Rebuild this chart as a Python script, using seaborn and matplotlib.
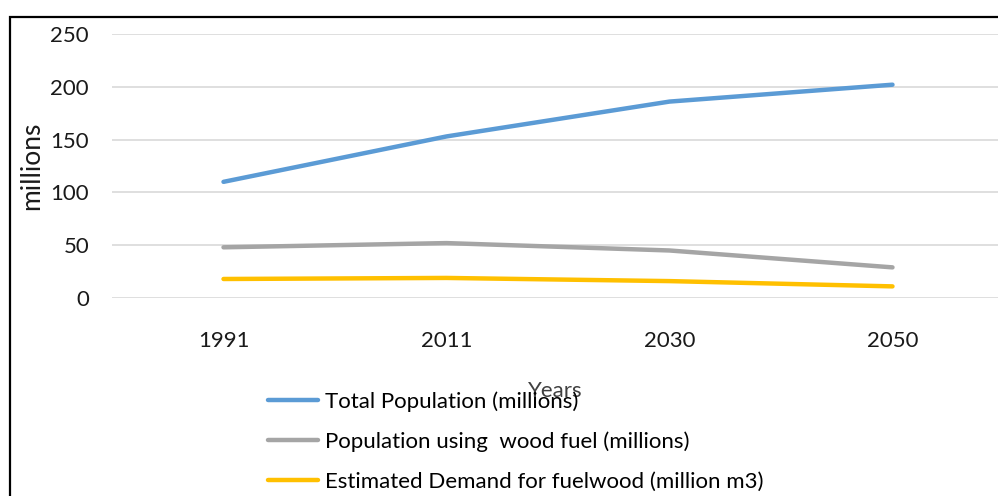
import matplotlib
matplotlib.use("Agg")
import matplotlib.pyplot as plt
from matplotlib.patches import Rectangle
import seaborn as sns
import pandas as pd

years = ["1991", "2011", "2030", "2050"]
total_population = [110, 153, 186, 202]
wood_fuel_population = [48, 52, 45, 29]
fuelwood_demand = [18, 19, 16, 11]

series_names = [
    "Total Population (millions)",
    "Population using  wood fuel (millions)",
    "Estimated Demand for fuelwood (million m3)",
]
series_colors = ["#5B9BD5", "#A5A5A5", "#FFC000"]

df = pd.concat([
    pd.DataFrame({"Year": years, "value": vals, "series": name})
    for name, vals in zip(series_names,
                          [total_population, wood_fuel_population, fuelwood_demand])
])

sns.set_theme(style="white")
plt.rcParams["font.family"] = ["Lato", "DejaVu Sans"]
text_color = "#1a1a1a"

fig = plt.figure(figsize=(9.98, 4.96), dpi=100)
W, H = 998, 496
left, right, top, bottom = 112, 1004, 34, 298
ax = fig.add_axes([left / W, (H - bottom) / H, (right - left) / W, (bottom - top) / H])

sns.lineplot(data=df, x="Year", y="value", hue="series",
             palette=dict(zip(series_names, series_colors)),
             linewidth=3.2, ax=ax, sort=False, legend=False)

ax.set_xlim(-0.5, 3.5)
ax.set_ylim(0, 250)
ax.set_yticks([0, 50, 100, 150, 200, 250])
ax.yaxis.grid(True, color="#D9D9D9", linewidth=1.2)
ax.set_axisbelow(True)
for s in ax.spines.values():
    s.set_visible(False)
ax.tick_params(axis="both", length=0, labelsize=16, colors=text_color)
ax.tick_params(axis="y", pad=16.5)
ax.tick_params(axis="x", pad=24)

ax.set_ylabel("millions", fontsize=19, color=text_color)
ax.yaxis.set_label_coords(-0.076, 0.5)
ax.set_xlabel("Years", fontsize=16, color="#404040")
ax.xaxis.set_label_coords(0.497, -0.315)

handles = [plt.Line2D([], [], color=c, linewidth=3.2) for c in series_colors]
fig.legend(handles, series_names, loc="upper left",
           bbox_to_anchor=(268 / W, 1 - 391 / H), frameon=False,
           borderpad=0, borderaxespad=0,
           fontsize=16, handlelength=2.25, handletextpad=0.32,
           labelspacing=0.9, labelcolor="#000000")

# outer chart border
fig.patches.append(Rectangle((10 / W, -0.1), 1.2, 1.1 - 17 / H,
                             transform=fig.transFigure, fill=False,
                             edgecolor="#000000", linewidth=1.6))

fig.savefig("out.png", dpi=100, facecolor="white")
